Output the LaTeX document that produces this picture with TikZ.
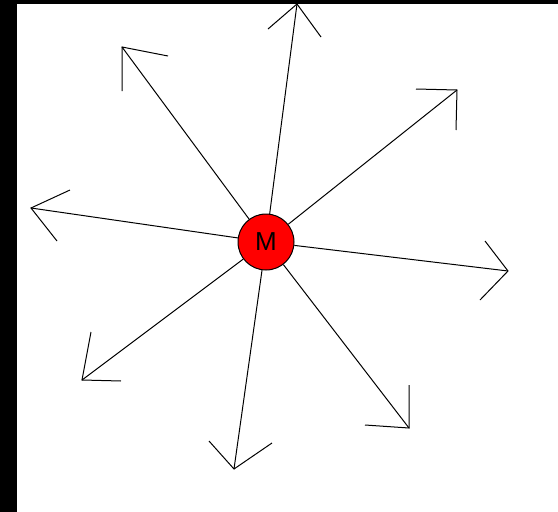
\documentclass[tikz,border=0pt]{standalone}
\usepackage{fontspec}
\setmainfont{Liberation Sans}

\tikzset{
  ray/.style={line width=1pt},
  barb/.style={line width=1pt, line join=miter},
  mass/.style={circle, draw, line width=1pt, fill=red, minimum size=56pt,
    inner sep=0pt, font=\fontsize{26}{26}\selectfont}
}

\begin{document}
\begin{tikzpicture}[x=1pt,y=-1pt]
  % frame: one pixel unit per pt, y running down as in the screen picture
  \useasboundingbox (0,0) rectangle (558,512);
  \fill[white] (0,0) rectangle (558,512);
  \fill[black] (0,0) rectangle (17,512);
  \fill[black] (0,0) rectangle (558,4);

  % the mass in the middle
  \node[mass] (M) at (266,242) {M};

  % end points of the eight rays
  \coordinate (tipN)  at (297,4);
  \coordinate (tipNE) at (457,90);
  \coordinate (tipE)  at (508,271);
  \coordinate (tipSE) at (409,428);
  \coordinate (tipS)  at (234,469);
  \coordinate (tipSW) at (82,380);
  \coordinate (tipW)  at (31,208);
  \coordinate (tipNW) at (122,47);

  % rays going out from the mass
  \foreach \t in {N,NE,E,SE,S,SW,W,NW}
    \draw[ray] (M) -- (tip\t);

  % open heads, drawn by hand: the two barbs are not quite symmetric
  \foreach \t/\ax/\ay/\bx/\by in {N/-29/25/24/33, NE/-41/-1/-1/40,
      E/-23/-30/-28/29, SE/0/-43/-44/-3, S/-25/-28/38/-26,
      SW/9/-48/39/1, W/39/-18/26/33, NW/0/44/46/9}
    \draw[barb] (tip\t) ++(\ax,\ay) -- (tip\t) -- ++(\bx,\by);
\end{tikzpicture}
\end{document}
